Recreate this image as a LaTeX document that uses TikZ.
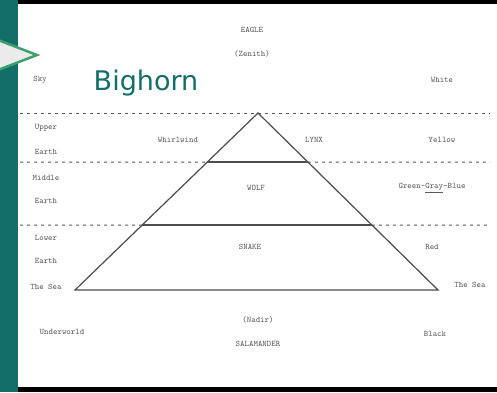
\documentclass[tikz,border=0pt]{standalone}
\usepackage{fontspec}
\usetikzlibrary{calc}
\newfontfamily\headfont{DejaVu Sans}
\definecolor{bandteal}{RGB}{19,110,105}
\definecolor{arrowgreen}{RGB}{60,160,110}
\definecolor{scangray}{RGB}{90,90,90}
\tikzset{
  lbl/.style={font=\ttfamily\fontsize{8.5}{9}\selectfont, text=scangray, inner sep=1pt},
  divider/.style={scangray, dash pattern=on 3pt off 4pt, line width=1pt},
  level/.style={black!70, line width=1.2pt}
}
\begin{document}
\begin{tikzpicture}[x=1pt, y=-1pt]
\useasboundingbox (0,0) rectangle (497,392);

% frame of the slide
\fill [white] (0,0) rectangle (497,392);
\fill [black] (18,0) rectangle (497,4);
\fill [black] (18,387) rectangle (497,392);
\fill [bandteal] (0,0) rectangle (18,392);
\filldraw [draw=arrowgreen, fill=black!8, line width=2.5pt, line join=miter]
  (-2,40) -- (37,55) -- (-2,70);

\node [font=\headfont\fontsize{27}{30}\selectfont, text=bandteal] (title) at (146,83) {Bighorn};

% pyramid corners
\coordinate (apex) at (258,113);
\coordinate (baseL) at (75,290);
\coordinate (baseR) at (438,290);
\coordinate (cutA) at ($(apex)!0.277!(baseL)$);
\coordinate (cutB) at ($(apex)!0.277!(baseR)$);
\coordinate (cutC) at ($(apex)!0.633!(baseL)$);
\coordinate (cutD) at ($(apex)!0.633!(baseR)$);

% dashed dividers across the page
\draw [divider] (20,113) -- (490,113);
\draw [divider] (20,162) -- (cutA);
\draw [divider] (cutB) -- (490,162);
\draw [divider] (20,225) -- (cutC);
\draw [divider] (cutD) -- (490,225);

\begin{scope}[level]
\draw (apex) -- (baseL) -- (baseR) -- cycle;
\draw (cutA) -- (cutB);
\draw (cutC) -- (cutD);
\end{scope}

\node [lbl] (eagle) at (252,30) {EAGLE};
\node [lbl] (zenith) at (252,54) {(Zenith)};
\node [lbl] (sky) at (40,80) {Sky};
\node [lbl] (white) at (442,80) {White};

\node [lbl] (upper) at (46,128) {Upper};
\node [lbl] (earth1) at (46,152) {Earth};
\node [lbl] (whirl) at (178,140) {Whirlwind};
\node [lbl] (lynx) at (314,140) {LYNX};
\node [lbl] (yellow) at (442,140) {Yellow};

\node [lbl] (middle) at (46,178) {Middle};
\node [lbl] (earth2) at (46,201) {Earth};
\node [lbl] (wolf) at (256,188) {WOLF};
\node [lbl] (green) at (432,188) {Green-\underline{Gray}-Blue};

\node [lbl] (lower) at (46,238) {Lower};
\node [lbl] (earth3) at (46,261) {Earth};
\node [lbl] (snake) at (250,247) {SNAKE};
\node [lbl] (red) at (432,247) {Red};

\node [lbl] (seaL) at (46,287) {The Sea};
\node [lbl] (seaR) at (470,285) {The Sea};

\node [lbl] (under) at (62,332) {Underworld};
\node [lbl] (nadir) at (258,320) {(Nadir)};
\node [lbl] (sacr) at (258,344) {SALAMANDER};
\node [lbl] (black) at (435,334) {Black};

\end{tikzpicture}
\end{document}
